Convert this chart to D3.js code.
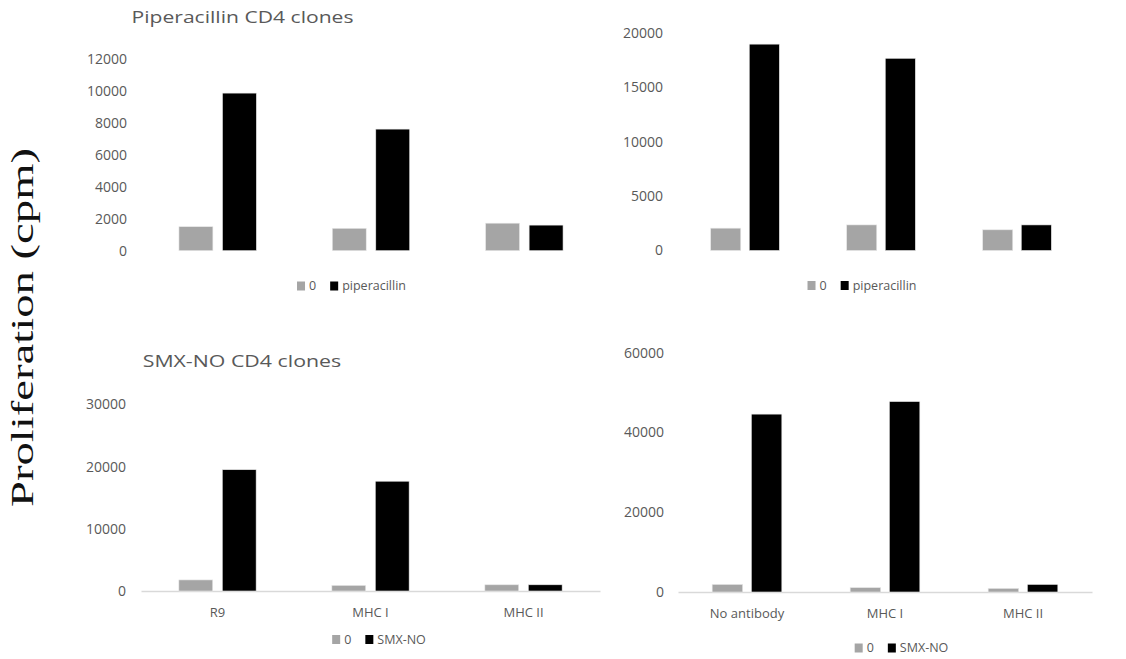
<!DOCTYPE html>
<html>
<head>
<meta charset="utf-8">
<script src="https://cdn.jsdelivr.net/npm/d3@7"></script>
<style>
  html, body { margin: 0; padding: 0; background: #fff; }
  svg { display: block; }
</style>
</head>
<body>
<svg id="chart" width="1126" height="659"></svg>
<script>
// ---------- data ----------
const seriesNames = ["0", "drug"];
const categoriesLeft = ["R9", "MHC I", "MHC II"];
const categoriesRight = ["No antibody", "MHC I", "MHC II"];

const pipLeftZero = [1500, 1400, 1720];
const pipLeftDrug = [9850, 7600, 1600];
const pipRightZero = [2050, 2350, 1900];
const pipRightDrug = [18950, 17650, 2350];

const smxLeftZero = [1780, 900, 1000];
const smxLeftDrug = [19500, 17650, 1000];
const smxRightZero = [1900, 1100, 900];
const smxRightDrug = [44600, 47750, 1900];

const pipTicks = [0, 2000, 4000, 6000, 8000, 10000, 12000];
const pipRightTicks = [0, 5000, 10000, 15000, 20000];
const smxLeftTicks = [0, 10000, 20000, 30000];
const smxRightTicks = [0, 20000, 40000, 60000];

const legendPip = ["0", "piperacillin"];
const legendSmx = ["0", "SMX-NO"];
const titles = ["Piperacillin CD4 clones", "SMX-NO CD4 clones"];
const yAxisTitle = "Proliferation (cpm)";

// ---------- style ----------
const colors = ["#a5a5a5", "#000000"];
const textColor = "#595959";
const font = "'Open Sans', sans-serif";

const svg = d3.select("#chart");

function panel(cfg) {
  const g = svg.append("g");
  const y = d3.scaleLinear().domain([0, cfg.max]).range([cfg.y0, cfg.y1]);
  const x = d3.scaleBand().domain(cfg.cats).range([cfg.x0, cfg.x1]).padding(0);
  const groupW = x.bandwidth() * 0.505;
  const xs = d3.scaleBand().domain(seriesNames)
    .range([(x.bandwidth() - groupW) / 2, (x.bandwidth() + groupW) / 2])
    .paddingInner(0.22).paddingOuter(0);

  // y axis tick labels
  const yAxis = d3.axisLeft(y).tickValues(cfg.ticks).tickSize(0).tickPadding(0).tickFormat(d3.format("d"));
  const ya = g.append("g").attr("transform", `translate(${cfg.tickX},0)`).call(yAxis);
  ya.select(".domain").remove();
  ya.selectAll("text").attr("font-family", font).attr("font-size", 14).attr("fill", textColor);

  // baseline + category labels
  if (cfg.showX) {
    const xAxis = d3.axisBottom(x).tickSize(0).tickPadding(0);
    const xa = g.append("g").attr("transform", `translate(0,${cfg.y0})`).call(xAxis);
    xa.select(".domain").attr("stroke", "#d9d9d9").attr("stroke-width", 1.3);
    xa.selectAll("text").attr("font-family", font).attr("font-size", 13).attr("fill", textColor)
      .attr("dy", null).attr("y", 26);
  }

  // bars
  const data = cfg.cats.map((c, i) => ({ cat: c, vals: [cfg.zero[i], cfg.drug[i]] }));
  const grp = g.selectAll(".grp").data(data).join("g")
    .attr("transform", d => `translate(${x(d.cat)},0)`);
  grp.selectAll("rect").data(d => d.vals.map((v, j) => ({ s: seriesNames[j], v, j })))
    .join("rect")
    .attr("x", d => xs(d.s))
    .attr("width", xs.bandwidth())
    .attr("y", d => y(d.v))
    .attr("height", d => cfg.y0 - y(d.v))
    .attr("fill", d => colors[d.j])
    .attr("stroke", "#e8e8e8").attr("stroke-width", 0.6);

  // title
  if (cfg.title) {
    g.append("text").attr("x", cfg.titleX).attr("y", cfg.titleY)
      .attr("font-family", font).attr("font-size", 17).attr("fill", textColor)
      .attr("textLength", cfg.titleLen).attr("lengthAdjust", "spacingAndGlyphs")
      .text(cfg.title);
  }

  // legend
  const lg = g.append("g");
  let cx = 0;
  cfg.legend.forEach((name, i) => {
    const it = lg.append("g");
    it.append("rect").attr("x", 0).attr("y", -4.5).attr("width", 8).attr("height", 9).attr("fill", colors[i]);
    const t = it.append("text").attr("x", 12).attr("y", 0).attr("dy", "0.35em")
      .attr("font-family", font).attr("font-size", 12.5).attr("fill", textColor).text(name);
    const w = 12 + t.node().getComputedTextLength();
    it.attr("transform", `translate(${cx},0)`);
    cx += w + 14;
  });
  const totalW = cx - 14;
  lg.attr("transform", `translate(${cfg.legendCX - totalW / 2},${cfg.legendY})`);
}

panel({ cats: categoriesLeft, zero: pipLeftZero, drug: pipLeftDrug, max: 12000, ticks: pipTicks,
  x0: 141, x1: 601, y0: 250.7, y1: 58.7, tickX: 127, showX: false,
  title: titles[0], titleX: 131.5, titleY: 22.5, titleLen: 222,
  legend: legendPip, legendCX: 351.5, legendY: 286 });

panel({ cats: categoriesRight, zero: pipRightZero, drug: pipRightDrug, max: 20000, ticks: pipRightTicks,
  x0: 677, x1: 1085, y0: 250.5, y1: 32.7, tickX: 663, showX: false,
  legend: legendPip, legendCX: 862, legendY: 285.5 });

panel({ cats: categoriesLeft, zero: smxLeftZero, drug: smxLeftDrug, max: 30000, ticks: smxLeftTicks,
  x0: 141, x1: 600, y0: 591, y1: 404.4, tickX: 126, showX: true,
  title: titles[1], titleX: 142.7, titleY: 366.7, titleLen: 198.5,
  legend: legendSmx, legendCX: 379, legendY: 639.5 });

panel({ cats: categoriesRight, zero: smxRightZero, drug: smxRightDrug, max: 60000, ticks: smxRightTicks,
  x0: 678, x1: 1092, y0: 592, y1: 352.7, tickX: 664, showX: true,
  legend: legendSmx, legendCX: 901.5, legendY: 648 });

// shared y-axis title
svg.append("text")
  .attr("transform", "translate(33,327.5) rotate(-90)")
  .attr("text-anchor", "middle")
  .attr("font-family", "'Liberation Serif', 'Times New Roman', serif")
  .attr("font-size", 32).attr("fill", "#111")
  .attr("textLength", 359).attr("lengthAdjust", "spacingAndGlyphs")
  .text(yAxisTitle);
</script>
</body>
</html>
